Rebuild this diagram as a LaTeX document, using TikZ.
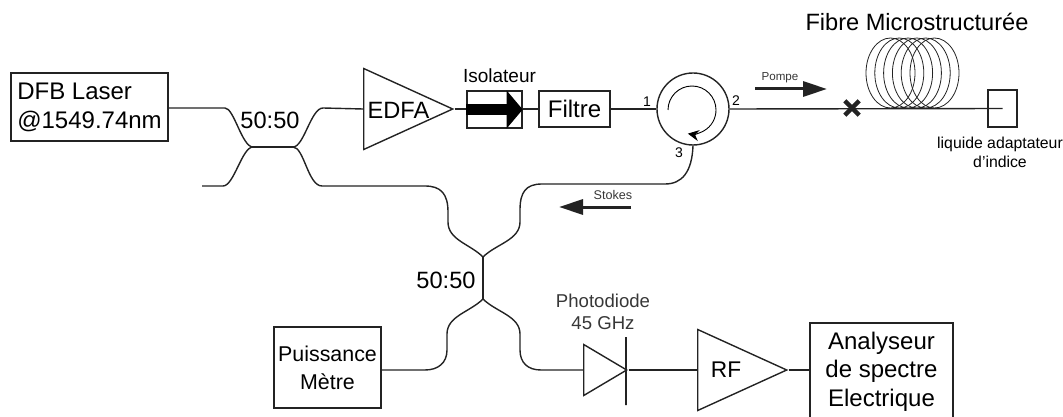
\documentclass[tikz,border=0pt]{standalone}
\usepackage{fontspec}
\setmainfont{Liberation Sans}
\usetikzlibrary{arrows.meta,shapes.geometric,shapes.misc}
\definecolor{FibreInk}{RGB}{35,35,35}
\definecolor{NoteInk}{RGB}{55,55,55}
\tikzset{
	fibre/.style={draw=FibreInk,line width=1.4pt},
	bloc/.style={rectangle,draw=FibreInk,fill=white,line width=1.4pt,inner sep=0pt,align=center,font=\fontsize{24}{29}\selectfont},
	ampli/.style={isosceles triangle,isosceles triangle stretches,shape border rotate=0,draw=FibreInk,fill=white,line width=1.4pt,inner sep=0pt,anchor=lower side},
	ring/.style={ellipse,draw=FibreInk,line width=0.8pt,minimum width=49pt,minimum height=70pt,inner sep=0pt},
	note/.style={inner sep=0pt,align=center,font=\fontsize{19}{22}\selectfont},
	big/.style={inner sep=0pt,align=center,font=\fontsize{23.6}{28}\selectfont},
	wave/.style={draw=FibreInk,line width=3pt,-{Triangle[length=24pt,width=15pt]}},
	port/.style={inner sep=0pt,font=\fontsize{14}{16}\selectfont},
}
\begin{document}
\begin{tikzpicture}[x=1pt,y=-1pt]
	\useasboundingbox (0,0) rectangle (1063,417);
	% coils first, the line passes over them
	\foreach \n/\xc in {1/890.5,2/899.3,3/908.1,4/916.9,5/925.7,6/934.5}
		\node[ring] (ring\n) at (\xc,73) {};
	% blocks
	\node[bloc,align=left,minimum width=157pt,minimum height=68pt] (laser) at (89.5,107) {DFB Laser\\@1549.74nm};
	\node[ampli,minimum width=81pt,minimum height=89pt] (edfa) at (363,109) {};
	\node[bloc,minimum width=55pt,minimum height=37pt] (iso) at (494.5,109.5) {};
	\node[bloc,minimum width=71pt,minimum height=36pt] (filtre) at (574.5,109) {Filtre};
	\node[circle,draw=FibreInk,fill=white,line width=1.4pt,minimum size=72pt,inner sep=0pt] (circ) at (693,109) {};
	\node[bloc,minimum width=29pt,minimum height=37pt,fill=none] (bout) at (1002.5,108.5) {};
	\node[bloc,font=\fontsize{21.4}{28}\selectfont,minimum width=107pt,minimum height=81pt] (metre) at (327.5,367.5) {Puissance\\Mètre};
	\node[ampli,minimum width=51pt,minimum height=43pt] (diode) at (583,370) {};
	\node[ampli,minimum width=81pt,minimum height=89pt] (rf) at (697,370) {};
	\node[bloc,font=\fontsize{24}{28.5}\selectfont,minimum width=143pt,minimum height=97pt] (spectre) at (881.5,371.5) {Analyseur\\de spectre\\Electrique};
	\node[rectangle,draw=FibreInk,line width=1.4pt,minimum width=0pt,minimum height=68pt,inner sep=0pt] (barre) at (626,371) {};
	% first coupler
	\coordinate (c1a) at (253,147);
	\coordinate (c1b) at (293,147);
	\coordinate (libre) at (202,186);
	% second coupler
	\coordinate (c2a) at (483,257);
	\coordinate (c2b) at (483,299);
	% fibres
	\draw[fibre] (laser.east |- 0,108) -- (225,108) .. controls (234,108) and (242,147) .. (c1a);
	\draw[fibre] (libre) -- (223,186) .. controls (234,186) and (242,147) .. (c1a);
	\draw[fibre] (c1a) -- (c1b);
	\draw[fibre] (c1b) .. controls (304,147) and (311,108) .. (323,108) -- (edfa.lower side);
	\draw[fibre] (c1b) .. controls (304,147) and (308,186) .. (322,186) -- (425,186)
		.. controls (441,186) and (448,194) .. (448,212) -- (448,222) .. controls (448,240) and (470,244) .. (c2a);
	\draw[fibre] (c2a) -- (c2b);
	\draw[fibre] (circ.south) .. controls (692,172) and (682,184) .. (665,184) -- (542,184)
		.. controls (526,184) and (520,192) .. (520,210) -- (520,222) .. controls (520,240) and (496,244) .. (c2a);
	\draw[fibre] (c2b) .. controls (470,312) and (447,316) .. (447,334) -- (447,350)
		.. controls (447,363) and (438,370) .. (425,370) -- (metre.east |- 0,370);
	\draw[fibre] (c2b) .. controls (496,312) and (520,316) .. (520,334) -- (520,350)
		.. controls (520,363) and (528,370) .. (541,370) -- (diode.lower side);
	\draw[fibre] (edfa.apex) -- (iso.west |- edfa.apex);
	\draw[fibre] (iso.east |- filtre.west) -- (filtre.west);
	\draw[fibre] (filtre.east) -- (circ.west);
	\draw[fibre] (circ.east) -- (bout.center);
	\draw[fibre] (diode.apex) -- (rf.lower side);
	\draw[fibre] (rf.apex) -- (spectre.west |- rf.apex);
	% isolator arrow
	\draw[draw=black,line width=11pt,-{Triangle[length=16pt,width=37pt]}] (iso.west) -- (iso.east);
	% circulator inner arrow
	\draw[draw=black,line width=0.9pt,-{Stealth[length=11pt,width=11pt]}] (668,110) arc[start angle=180,end angle=-100,radius=24pt];
	% splice mark
	\node[cross out,draw=FibreInk,line width=4.4pt,minimum size=10pt,inner sep=0pt] (soudure) at (852,108) {};
	% pump and Stokes directions
	\coordinate (pompeA) at (755,89);
	\coordinate (pompeB) at (827,89);
	\coordinate (stokesA) at (631,207);
	\coordinate (stokesB) at (559,207);
	\draw[wave] (pompeA) -- (pompeB);
	\draw[wave] (stokesA) -- (stokesB);
	% labels
	\node[big] (split1) at (270,120) {50:50};
	\node[big] (split2) at (446,280) {50:50};
	\node[big] (nomedfa) at (398.5,110) {EDFA};
	\node[big,font=\fontsize{22.7}{28}\selectfont] (nomrf) at (726,370) {RF};
	\node[note] (nomiso) at (499.5,76) {Isolateur};
	\node[big] (nomfibre) at (917,22) {Fibre Microstructurée};
	\node[inner sep=0pt,text=NoteInk,font=\fontsize{11.6}{14}\selectfont] (nompompe) at (780,78) {Pompe};
	\node[inner sep=0pt,text=NoteInk,font=\fontsize{12.6}{14}\selectfont] (nomstokes) at (613,195) {Stokes};
	\node[inner sep=0pt,align=center,font=\fontsize{15.8}{19}\selectfont] (nomliquide) at (1000,152) {liquide adaptateur\\d’indice};
	\node[note,text=NoteInk,font=\fontsize{18.6}{22}\selectfont] (nomdiode) at (603,312) {Photodiode\\45 GHz};
	\node[port] (p1) at (647,102) {1};
	\node[port] (p2) at (736,101) {2};
	\node[port] (p3) at (679,153) {3};
\end{tikzpicture}
\end{document}
